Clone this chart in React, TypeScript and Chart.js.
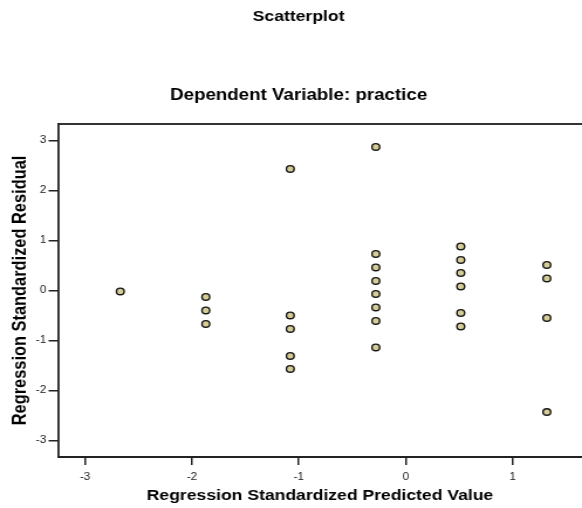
import { useEffect, useRef } from "react";
import { Chart, registerables } from "chart.js";

Chart.register(...registerables);

const chartTitle = "Scatterplot";
const chartSubtitle = "Dependent Variable: practice";
const xAxisTitle = "Regression Standardized Predicted Value";
const yAxisTitle = "Regression Standardized Residual";

const predictedValues = [
  -2.67,
  -1.87, -1.87, -1.87,
  -1.08, -1.08, -1.08, -1.08, -1.08,
  -0.28, -0.28, -0.28, -0.28, -0.28, -0.28, -0.28, -0.28,
  0.515, 0.515, 0.515, 0.515, 0.515, 0.515,
  1.32, 1.32, 1.32, 1.32,
];
const residualValues = [
  -0.02,
  -0.13, -0.4, -0.67,
  2.43, -0.5, -0.77, -1.31, -1.57,
  2.87, 0.73, 0.46, 0.19, -0.07, -0.34, -0.61, -1.14,
  0.88, 0.61, 0.35, 0.08, -0.45, -0.72,
  0.51, 0.24, -0.55, -2.43,
];

const xTickValues = [-3, -2, -1, 0, 1];
const yTickValues = [-3, -2, -1, 0, 1, 2, 3];

const xRange = [-3.253, 1.649];
const yRange = [-3.33, 3.33];

const FONT = "'Liberation Sans', Arial, Helvetica, sans-serif";

export default function App() {
  const canvasRef = useRef<HTMLCanvasElement | null>(null);

  useEffect(() => {
    const canvas = canvasRef.current;
    if (!canvas) return;
    const points = predictedValues.map((x, i) => ({ x, y: residualValues[i] }));
    const chart = new Chart(canvas, {
      type: "scatter",
      data: {
        datasets: [
          {
            data: points,
            backgroundColor: "#d5cd95",
            borderColor: "#151515",
            borderWidth: 1.4,
            pointRadius: 3.3,
            pointHoverRadius: 3.3,
          },
        ],
      },
      options: {
        responsive: false,
        animation: false,
        devicePixelRatio: 1,
        layout: { autoPadding: false, padding: { left: 13, right: 0, top: 0, bottom: 0 } },
        plugins: {
          legend: { display: false },
          tooltip: { enabled: false },
          title: {
            display: true,
            text: chartTitle,
            color: "#000",
            font: { family: FONT, size: 15, weight: "bold", lineHeight: 1.2 },
            padding: { top: 7.5, bottom: 60 },
          },
          subtitle: {
            display: true,
            text: chartSubtitle,
            color: "#000",
            font: { family: FONT, size: 16, weight: "bold", lineHeight: 1.2 },
            padding: { top: 0, bottom: 19.2 },
          },
        },
        scales: {
          x: {
            type: "linear",
            position: "bottom",
            min: xRange[0],
            max: xRange[1],
            afterBuildTicks: (s: any) => {
              s.ticks = xTickValues.map((v) => ({ value: v }));
            },
            afterFit: (s: any) => {
              s.height = 51;
            },
            grid: {
              drawOnChartArea: false,
              drawTicks: true,
              tickLength: 8,
              color: "#222",
              lineWidth: 1.5,
            },
            border: { display: true, color: "#222", width: 2 },
            ticks: {
              padding: 6,
              color: "#222",
              autoSkip: false,
              maxRotation: 0,
              font: { family: FONT, size: 10 },
            },
            title: {
              display: true,
              text: xAxisTitle,
              color: "#000",
              font: { family: FONT, size: 15, weight: "bold", lineHeight: 1.2 },
              padding: { top: 0, bottom: 2.8 },
            },
          },
          xTop: {
            type: "linear",
            position: "top",
            min: xRange[0],
            max: xRange[1],
            grid: { display: false, drawTicks: false },
            ticks: { display: false },
            border: { display: true, color: "#333", width: 2 },
            afterFit: (s: any) => {
              s.height = 0;
            },
          },
          y: {
            type: "linear",
            position: "left",
            min: yRange[0],
            max: yRange[1],
            afterBuildTicks: (s: any) => {
              s.ticks = yTickValues.map((v) => ({ value: v }));
            },
            afterFit: (s: any) => {
              s.width = 36.5;
            },
            grid: {
              drawOnChartArea: false,
              drawTicks: true,
              tickLength: 8,
              color: "#222",
              lineWidth: 1.5,
            },
            border: { display: true, color: "#222", width: 1.8 },
            ticks: {
              padding: 2,
              color: "#222",
              autoSkip: false,
              font: { family: FONT, size: 10 },
            },
            title: {
              display: true,
              text: yAxisTitle,
              color: "#000",
              font: { family: FONT, size: 16.4, weight: "bold", lineHeight: 1 },
              padding: { top: -3.4, bottom: 0 },
            },
          },
        },
      },
    } as any);
    return () => {
      chart.destroy();
    };
  }, []);

  return (
    <div style={{ position: "absolute", left: 0, top: 0, width: 582, height: 508, background: "#fff" }}>
      <canvas
        ref={canvasRef}
        width={497}
        height={508}
        style={{ width: "582px", height: "508px", display: "block" }}
      />
    </div>
  );
}
